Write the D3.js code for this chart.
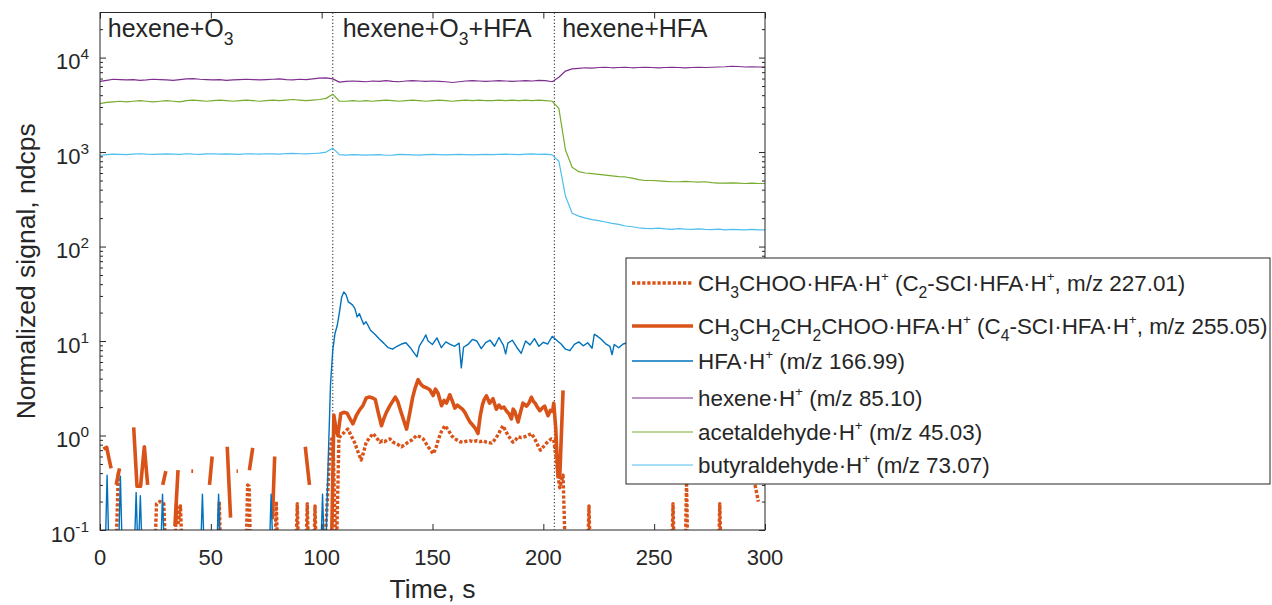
<!DOCTYPE html>
<html>
<head>
<meta charset="UTF-8">
<script src="https://d3js.org/d3.v7.min.js"></script>
<style>
  body { margin: 0; background: #fff; font-family: 'Liberation Sans', Arial, sans-serif; }
  text { fill: #262626; white-space: pre; }
</style>
</head>
<body>
<svg id="chart" width="1272" height="605"></svg>
<script>
  // ---- data ----
  const tGrid = d3.range(0, 301, 3);   // time base (s) for the three big signals

  const hexene = [
    5600, 5750, 5900, 5850, 5800, 5850, 5750, 5800, 5900, 5850,
    5800, 5750, 5850, 5950, 6000, 5900, 5850, 5800, 5850, 5750,
    5800, 5850, 5900, 5850, 5800, 5850, 5900, 5950, 5850, 5800,
    5900, 5850, 5950, 6050, 6100, 5950, 5500, 5600, 5650, 5600,
    5550, 5650, 5600, 5700, 5600, 5550, 5650, 5700, 5650, 5600,
    5650, 5600, 5550, 5450, 5550, 5650, 5700, 5650, 5600, 5650,
    5700, 5650, 5600, 5650, 5700, 5650, 5750, 5700, 5550, 6200,
    7200, 7600, 7700, 7800, 7750, 7850, 7900, 7800, 7850, 7900,
    7800, 7850, 7900, 7850, 7800, 7850, 7900, 7850, 7800, 7850,
    7900, 7850, 7900, 7950, 8000, 8100, 8050, 7950, 8000, 7950,
    7900];

  const acetaldehyde = [
    3250, 3350, 3400, 3450, 3400, 3450, 3500, 3450, 3400, 3450,
    3500, 3450, 3400, 3500, 3550, 3500, 3450, 3500, 3550, 3500,
    3450, 3500, 3550, 3500, 3450, 3500, 3550, 3500, 3550, 3600,
    3550, 3500, 3550, 3600, 3700, 4100, 3450, 3450, 3500, 3450,
    3500, 3450, 3500, 3550, 3500, 3450, 3500, 3550, 3500, 3450,
    3500, 3550, 3500, 3450, 3500, 3550, 3500, 3550, 3500, 3500,
    3550, 3500, 3550, 3500, 3550, 3500, 3550, 3500, 3450, 2900,
    1050, 690, 620, 600, 590, 580, 570, 560, 550, 545,
    530, 510, 500, 500, 495, 490, 485, 485, 490, 485,
    480, 485, 475, 470, 470, 472, 468, 465, 470, 465,
    465];

  const butyraldehyde = [
    920, 940, 950, 945, 940, 950, 960, 950, 945, 950,
    955, 950, 945, 960, 950, 945, 955, 960, 950, 955,
    950, 945, 960, 955, 950, 960, 955, 950, 965, 970,
    960, 955, 965, 975, 1000, 1100, 940, 930, 940, 935,
    930, 935, 940, 925, 930, 945, 940, 935, 930, 940,
    945, 940, 935, 940, 945, 940, 935, 940, 945, 940,
    945, 950, 945, 940, 950, 955, 945, 950, 935, 800,
    340, 225, 210, 200, 193, 188, 182, 176, 172, 165,
    162, 158, 156, 155, 157, 154, 152, 155, 153, 152,
    154, 152, 151, 153, 150, 152, 151, 150, 152, 150,
    150];

  // HFA·H+ : spikes before 105 s, then the main trace
  const hfaTime = [
    0, 2.3, 3.2, 4.1, 8.3, 9.2, 10.1, 15.4, 16.3, 17.2, 18.2, 19.1, 27.3, 28.2, 29.1,
    45.3, 46.2, 47.1, 52.6, 53.5, 54.4, 76.3, 77.2, 78.1, 99.5, 100.4, 101.3,
    102, 103, 104, 105, 106, 107, 108, 109, 110, 111, 112, 113, 114, 115, 116, 117, 118, 119,
    120, 121, 122, 124, 126, 128, 130, 132, 134, 136, 138, 140, 142, 143, 144, 146, 147, 148,
    150, 152, 154, 156, 158, 160, 162, 163, 164, 166, 168, 170, 172, 174, 176, 178, 180, 182,
    183, 184, 186, 188, 190, 192, 194, 196, 198, 200, 202, 204, 206, 208, 210, 212, 214, 216,
    218, 220, 222, 223, 224, 226, 228, 230, 231, 232, 234, 236, 238, 240, 244, 248, 252, 256,
    260, 264, 268, 272, 276, 280, 284, 288, 292, 296, 300];
  const hfaValue = [
    0.05, 0.05, 0.38, 0.05, 0.05, 0.37, 0.05, 0.05, 0.25, 0.05, 0.23, 0.05, 0.05, 0.24, 0.05,
    0.05, 0.24, 0.05, 0.05, 0.24, 0.05, 0.05, 0.24, 0.05, 0.05, 0.24, 0.05,
    0.08, 0.6, 3.5, 8, 12, 14.5, 20, 29, 33, 31, 26, 25, 24, 22, 18, 19.5, 17, 15,
    16, 14.5, 13, 11.8, 10.5, 9.5, 8.5, 8.2, 8.8, 9.3, 9.6, 8.5, 7.3, 6.8, 8.8, 10.5, 11.6, 10,
    9.2, 10.8, 8.5, 9.8, 9.2, 8.8, 9.5, 5.2, 8.6, 9.2, 10.4, 10, 8.3, 9.6, 10.2, 8.8, 10.9, 9,
    7.3, 9.5, 10.2, 8.6, 7.4, 10, 9.1, 10.6, 8.8, 9.7, 9.3, 11.2, 10.2, 9.3, 8.2, 7.9, 9.2, 9.8,
    8.9, 9.6, 8.4, 11.8, 11.4, 10.5, 9.4, 8.8, 7.2, 9.2, 8.5, 9.3, 9.6, 9.1, 9.8, 9.4, 10.1, 9.2,
    9.7, 9.5, 10.0, 9.3, 9.8, 9.6, 10.2, 9.4, 9.9, 9.5, 9.8];

  // C2-SCI·HFA·H+ (dotted); null = no data
  const c2Time = [
    7, 8.3, 9, 24.5, 25.5, 27, 28.8, 29.8, 30, 33.5, 34.5, 35.3, 36.3, 37.3, 38,
    53, 53.8, 54.6, 55, 65.8, 66.6, 67.3, 68, 68.5, 78.7, 79.5, 80.4, 81,
    88.2, 89, 89.8, 90, 92.7, 93.5, 94.3, 95, 96.3, 97, 97.7, 98,
    101, 102.5, 103.5, 104.5, 105.3, 106.5, 107.8, 108.8, 110.5, 111.8, 113.3, 114.8, 116.3, 117.8,
    119, 120.1, 121.7, 123.2, 124.7, 126.2, 127.4, 128.4, 129.6, 130.8, 132, 133, 134.5, 136,
    137.5, 139, 140.8, 142.8, 144.3, 145.8, 147, 148, 149.2, 150.3, 151.4, 152.6, 154, 155.6,
    157, 158.6, 159.8, 160.9, 162.4, 163.9, 165.4, 166.9, 168.4, 170, 171.5, 173, 174.3, 175.5,
    176.6, 177.7, 178.8, 180.3, 181.8, 183, 184.1, 185.2, 186.3, 187.5, 188.6, 190, 191.6, 193,
    194.6, 195.8, 196.9, 197.8, 198.7, 200, 201.4, 202.5, 203.6, 204.7, 205.6, 206.6, 207.4,
    208.9, 210.1, 211, 219.8, 220.6, 221.3, 222, 257.8, 258.5, 259.2, 260, 263.9, 264.6, 265.3,
    266, 278.9, 279.6, 280.3, 281, 295.5, 297, 298];
  const c2Value = [
    0.04, 0.42, null, 0.04, 0.19, 0.2, 0.19, 0.04, null, 0.04, 0.19, 0.12, 0.18, 0.04, null,
    0.04, 0.2, 0.04, null, 0.04, 0.3, 0.29, 0.04, null, 0.04, 0.2, 0.04, null,
    0.04, 0.19, 0.04, null, 0.04, 0.19, 0.04, null, 0.04, 0.18, 0.04, null,
    0.04, 0.2, 0.55, 0.92, 0.6, 0.04, 0.95, 1.0, 1.1, 1.17, 1.0, 0.85, 0.68, 0.55,
    0.68, 0.85, 0.95, 1.05, 0.95, 0.85, 0.88, 0.86, 0.9, 0.92, 0.86, 0.83, 0.8, 0.76,
    0.8, 0.85, 0.9, 1.0, 0.97, 0.92, 0.83, 0.76, 0.7, 0.64, 0.72, 0.9, 1.1, 1.27,
    1.15, 1.0, 0.93, 0.9, 0.86, 0.85, 0.87, 0.88, 0.86, 0.88, 0.86, 0.88, 0.85, 0.84,
    0.83, 0.88, 0.95, 1.1, 1.27, 1.12, 1.0, 0.92, 0.85, 0.9, 0.97, 0.95, 0.97, 1.0,
    1.05, 0.95, 0.85, 0.76, 0.7, 0.76, 0.83, 0.88, 0.92, 0.9, 0.62, 0.38, 0.28,
    0.38, 0.04, null, 0.04, 0.18, 0.04, null, 0.04, 0.19, 0.04, null, 0.04, 0.32, 0.04,
    null, 0.04, 0.19, 0.04, null, 0.3, 0.2, null];

  // C4-SCI·HFA·H+ (thick solid)
  const c4Time = [
    1.5, 3, 5, 6, 7.3, 8.8, 9.5, 15.2, 16.7, 18.3, 20, 21.5, 22, 28.3, 29.7, 30,
    33.8, 35.2, 36, 41.2, 42, 43, 49.4, 50.6, 51, 57.4, 58.9, 60, 61.6, 62.2, 63,
    67.4, 68.9, 70, 77.8, 78.8, 80, 92.6, 94.5, 95,
    104.3, 105.5, 106.5, 107.3, 108.6, 110, 111.5, 112.8, 114.1, 115.6, 117, 118.6, 120.1, 121.5,
    123, 124.2, 125.5, 127, 128, 129.2, 130.8, 132, 133.2, 134.3, 135.4, 136.6, 138.3, 139.8,
    141, 142.2, 143.5, 144.7, 145.8, 147.3, 148.8, 150.3, 151.3, 152.5, 154.1, 155.2, 156.3, 157.8,
    159, 160.1, 161.2, 162.3, 163.5, 164.6, 165.8, 166.9, 168, 169.2, 170.5, 171.5, 172.5, 173.3,
    174.3, 175.8, 177.3, 178.8, 180, 181, 182.2, 183.3, 184.5, 185.6, 186.4, 187.1, 188.6, 189.8,
    190.8, 192.4, 193.5, 194.6, 195.5, 196.3, 197.3, 198.4, 199.5, 200.6, 201.4, 202.1, 203.2, 204.2,
    204.7, 205.6, 206.6, 207.4, 208.9, 210];
  const c4Value = [
    0.72, 0.75, 0.45, null, 0.3, 0.45, null, 1.22, 0.29, 0.29, 0.76, 0.3, null, 0.3, 0.42, null,
    0.11, 0.43, null, 0.42, 0.42, null, 0.3, 0.6, null, 0.76, 0.135, null, 0.42, 0.42, null,
    0.43, 0.74, null, 0.13, 0.6, null, 0.76, 0.3, null,
    0.04, 1.65, 1.15, 1.0, 1.7, 1.76, 1.72, 1.5, 1.33, 1.62, 1.85, 2.07, 2.5, 2.55,
    2.5, 2.4, 1.76, 1.27, 1.5, 1.76, 2.07, 2.3, 2.55, 2.3, 1.9, 1.55, 1.17, 1.76,
    2.5, 3.2, 3.9, 3.5, 3.3, 3.2, 3.05, 2.65, 3.1, 2.8, 2.07, 2.35, 2.2, 2.7,
    2.3, 1.95, 2.1, 2.0, 1.9, 1.76, 1.55, 1.39, 1.3, 1.2, 1.05, 1.6, 2.1, 2.4,
    2.63, 2.2, 2.45, 1.9, 2.1, 1.95, 2.0, 1.83, 1.7, 1.5, 1.9, 1.8, 1.39, 1.8,
    2.2, 2.05, 2.2, 2.54, 2.3, 2.2, 2.0, 1.83, 1.95, 2.05, 1.8, 1.62, 1.85, 1.8,
    2.2, 1.2, 0.37, 0.36, 3.0, null];

  const phaseBreaks = [105, 205];
  const phaseLabels = [
    { t: 3.5, parts: [['hexene+O', 'n'], ['3', 'sub']] },
    { t: 109.5, parts: [['hexene+O', 'n'], ['3', 'sub'], ['+HFA', 'n']] },
    { t: 208.5, parts: [['hexene+HFA', 'n']] }
  ];
  const xTicks = [0, 50, 100, 150, 200, 250, 300];
  const yExponents = [-1, 0, 1, 2, 3, 4];

  const C = { orange: '#D95319', blue: '#0072BD', purple: '#7E2F8E', green: '#77AC30', cyan: '#4DBEEE' };

  const series = [
    { name: 'c2', t: c2Time, v: c2Value, color: C.orange, width: 3.4, dash: '3.2,1.9',
      label: [['CH', 'n'], ['3', 'sub'], ['CHOO\u00B7HFA\u00B7H', 'n'], ['+', 'sup'], [' (C', 'n'], ['2', 'sub'],
              ['-SCI\u00B7HFA\u00B7H', 'n'], ['+', 'sup'], [', m/z 227.01)', 'n']] },
    { name: 'c4', t: c4Time, v: c4Value, color: C.orange, width: 3.6, dash: null,
      label: [['CH', 'n'], ['3', 'sub'], ['CH', 'n'], ['2', 'sub'], ['CH', 'n'], ['2', 'sub'], ['CHOO\u00B7HFA\u00B7H', 'n'],
              ['+', 'sup'], [' (C', 'n'], ['4', 'sub'], ['-SCI\u00B7HFA\u00B7H', 'n'], ['+', 'sup'], [', m/z 255.05)', 'n']] },
    { name: 'hfa', t: hfaTime, v: hfaValue, color: C.blue, width: 1.4, dash: null,
      label: [['HFA\u00B7H', 'n'], ['+', 'sup'], [' (m/z 166.99)', 'n']] },
    { name: 'hexene', t: tGrid, v: hexene, color: C.purple, width: 1.2, dash: null,
      label: [['hexene\u00B7H', 'n'], ['+', 'sup'], [' (m/z 85.10)', 'n']] },
    { name: 'acet', t: tGrid, v: acetaldehyde, color: C.green, width: 1.2, dash: null,
      label: [['acetaldehyde\u00B7H', 'n'], ['+', 'sup'], [' (m/z 45.03)', 'n']] },
    { name: 'buty', t: tGrid, v: butyraldehyde, color: C.cyan, width: 1.2, dash: null,
      label: [['butyraldehyde\u00B7H', 'n'], ['+', 'sup'], [' (m/z 73.07)', 'n']] }
  ];

  // ---- layout ----
  const svg = d3.select('#chart');
  const P = { left: 100, right: 765, top: 12.5, bottom: 530 };
  const x = d3.scaleLinear().domain([0, 300]).range([P.left, P.right]);
  const y = d3.scaleLog().domain([0.1, 30000]).range([P.bottom, P.top]);
  const axisColor = '#262626';

  // rich text with sub/superscripts
  function rich(sel, parts, size, supScale = 0.6) {
    let shift = 0;
    parts.forEach(([s, kind]) => {
      const target = kind === 'sub' ? size * 0.3 : kind === 'sup' ? -size * 0.45 : 0;
      const fs = kind === 'n' ? size : kind === 'sub' ? size * 0.7 : size * supScale;
      sel.append('tspan')
        .attr('dy', target - shift)
        .attr('font-size', fs)
        .text(s);
      shift = target;
    });
  }

  svg.append('clipPath').attr('id', 'clip')
    .append('rect').attr('x', P.left).attr('y', P.top)
    .attr('width', P.right - P.left).attr('height', P.bottom - P.top);

  // phase separators
  svg.append('g').selectAll('line').data(phaseBreaks).join('line')
    .attr('x1', d => x(d)).attr('x2', d => x(d))
    .attr('y1', P.top).attr('y2', P.bottom)
    .attr('stroke', '#444').attr('stroke-width', 1.2).attr('stroke-dasharray', '1.2,2.2');

  const line = d3.line()
    .defined(d => d.v != null)
    .x(d => x(d.t)).y(d => y(d.v));

  const plot = svg.append('g').attr('clip-path', 'url(#clip)');
  series.forEach(s => {
    const pts = s.t.map((t, i) => ({ t, v: s.v[i] }));
    plot.append('path').datum(pts)
      .attr('d', line)
      .attr('fill', 'none')
      .attr('stroke', s.color)
      .attr('stroke-width', s.width)
      .attr('stroke-dasharray', s.dash)
      .attr('stroke-linejoin', 'round');
  });

  // ---- axes (ticks inward, box on) ----
  const majors = yExponents.map(e => Math.pow(10, e));
  const minors = [];
  yExponents.forEach(e => d3.range(2, 10).forEach(m => {
    const v = m * Math.pow(10, e);
    if (v < 30000) minors.push(v);
  }));

  function styleAxis(g) {
    g.select('.domain').remove();
    g.selectAll('line').attr('stroke', axisColor);
    g.selectAll('text').remove();
  }
  svg.append('g').attr('transform', `translate(0,${P.bottom})`)
    .call(d3.axisBottom(x).tickValues(xTicks).tickSize(-6)).call(styleAxis);
  svg.append('g').attr('transform', `translate(0,${P.top})`)
    .call(d3.axisTop(x).tickValues(xTicks).tickSize(-6)).call(styleAxis);
  svg.append('g').attr('transform', `translate(${P.left},0)`)
    .call(d3.axisLeft(y).tickValues(majors).tickSize(-6)).call(styleAxis);
  svg.append('g').attr('transform', `translate(${P.left},0)`)
    .call(d3.axisLeft(y).tickValues(minors).tickSize(-3)).call(styleAxis);
  svg.append('g').attr('transform', `translate(${P.right},0)`)
    .call(d3.axisRight(y).tickValues(majors).tickSize(-6)).call(styleAxis);
  svg.append('g').attr('transform', `translate(${P.right},0)`)
    .call(d3.axisRight(y).tickValues(minors).tickSize(-3)).call(styleAxis);

  svg.append('rect')
    .attr('x', P.left).attr('y', P.top)
    .attr('width', P.right - P.left).attr('height', P.bottom - P.top)
    .attr('fill', 'none').attr('stroke', axisColor).attr('stroke-width', 1);

  // tick labels
  svg.append('g').selectAll('text').data(xTicks).join('text')
    .attr('x', d => x(d)).attr('y', P.bottom + 35)
    .attr('text-anchor', 'middle').attr('font-size', 22)
    .text(d => d);

  svg.append('g').selectAll('text').data(yExponents).join('text')
    .attr('x', 89).attr('y', d => y(Math.pow(10, d)) + 11.5)
    .attr('text-anchor', 'end')
    .each(function(d) { rich(d3.select(this), [['10', 'n'], [d < 0 ? '-' + (-d) : String(d), 'sup']], 22, 0.7); });

  // axis titles
  svg.append('text')
    .attr('x', (P.left + P.right) / 2).attr('y', 598)
    .attr('text-anchor', 'middle').attr('font-size', 26.5)
    .text('Time, s');
  svg.append('text')
    .attr('transform', `translate(35,${(P.top + P.bottom) / 2}) rotate(-90)`)
    .attr('text-anchor', 'middle').attr('font-size', 26.5)
    .text('Normalized signal, ndcps');

  // phase labels
  svg.append('g').selectAll('text').data(phaseLabels).join('text')
    .attr('x', d => x(d.t)).attr('y', 37)
    .each(function(d) { rich(d3.select(this), d.parts, 25); });

  // ---- legend ----
  const L = { x: 626, y: 258, w: 644, h: 226 };
  const rowY = [283, 326, 361, 398, 432, 465];
  const legendSize = 22.4;
  const leg = svg.append('g');
  leg.append('rect').attr('x', L.x).attr('y', L.y).attr('width', L.w).attr('height', L.h)
    .attr('fill', '#fff').attr('stroke', axisColor).attr('stroke-width', 1);
  series.forEach((s, i) => {
    leg.append('line')
      .attr('x1', 632).attr('x2', 693).attr('y1', rowY[i]).attr('y2', rowY[i])
      .attr('stroke', s.color).attr('stroke-width', s.width)
      .attr('stroke-dasharray', s.dash);
    const t = leg.append('text').attr('x', 698).attr('y', rowY[i] + 8);
    rich(t, s.label, legendSize);
  });
</script>
</body>
</html>
